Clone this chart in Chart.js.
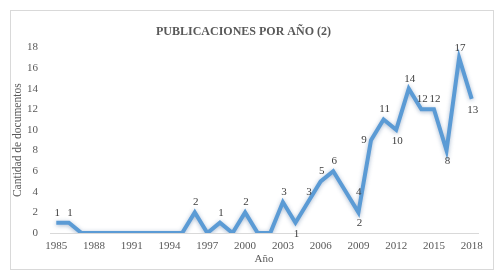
<!DOCTYPE html>
<html>
<head>
<meta charset="utf-8">
<script src="https://cdn.jsdelivr.net/npm/chart.js@4/dist/chart.umd.min.js"></script>
<style>
  html, body { margin: 0; padding: 0; background: #fff; }
  #wrap { position: relative; width: 500px; height: 276px; }
  #frame { position: absolute; left: 10px; top: 10px; width: 482px; height: 258px; border: 1px solid #d9d9d9; pointer-events: none; }
  canvas { position: absolute; left: 0; top: 0; }
</style>
</head>
<body>
<div id="wrap">
  <canvas id="c" width="500" height="276"></canvas>
  <div id="frame"></div>
</div>
<script>
const years = [1985,1986,1987,1988,1989,1990,1991,1992,1993,1994,1995,1996,1997,1998,1999,2000,2001,2002,2003,2004,2005,2006,2007,2008,2009,2010,2011,2012,2013,2014,2015,2016,2017,2018];
const documentos = [1,1,0,0,0,0,0,0,0,0,0,2,0,1,0,2,0,0,3,1,3,5,6,4,2,9,11,10,14,12,12,8,17,13];
const yTicks = [0,2,4,6,8,10,12,14,16,18];
const chartTitle = 'PUBLICACIONES POR AÑO (2)';
const xTitle = 'Año';
const yTitle = 'Cantidad de documentos';

const FONT = "'Liberation Serif', 'DejaVu Serif', serif";

// label placement per point: a=above, b=below, l=left, r=right
const labelPlacement = ['a','a','a','a','a','a','a','a','a','a','a','a','a','a','a','a','a','a','a','b','a','a','a','r','b','l','a','b','a','a','a','b','a','b'];

const shadowPlugin = {
  id: 'lineShadow',
  beforeDatasetDraw(chart) {
    const ctx = chart.ctx;
    ctx.save();
    ctx.shadowColor = 'rgba(60,100,150,0.45)';
    ctx.shadowBlur = 4;
    ctx.shadowOffsetX = 0;
    ctx.shadowOffsetY = 1;
  },
  afterDatasetDraw(chart) {
    chart.ctx.restore();
  }
};

const labelPlugin = {
  id: 'valueLabels',
  afterDatasetsDraw(chart) {
    const ctx = chart.ctx;
    const meta = chart.getDatasetMeta(0);
    const data = chart.data.datasets[0].data;
    ctx.save();
    ctx.font = "11px " + FONT;
    ctx.fillStyle = '#404040';
    ctx.textAlign = 'center';
    ctx.textBaseline = 'middle';
    meta.data.forEach((pt, i) => {
      const v = data[i];
      if (!v) return;
      let x = pt.x + 1, y = pt.y;
      switch (labelPlacement[i]) {
        case 'a': y -= 10; break;
        case 'b': y += 11; break;
        case 'l': x -= 8; break;
        case 'r': x += 12; break;
      }
      ctx.fillText(String(v), x, y);
    });
    ctx.restore();
  }
};

new Chart(document.getElementById('c'), {
  type: 'line',
  data: {
    labels: years,
    datasets: [{
      data: documentos,
      borderColor: '#5b9bd5',
      borderWidth: 4,
      pointRadius: 0,
      tension: 0,
      fill: false,
      borderJoinStyle: 'miter'
    }]
  },
  options: {
    responsive: false,
    animation: false,
    devicePixelRatio: 1,
    layout: { padding: { left: 9, right: 22, top: 0, bottom: 0 } },
    plugins: {
      legend: { display: false },
      tooltip: { enabled: false },
      title: {
        display: true,
        text: chartTitle,
        color: '#595959',
        font: { family: FONT, size: 12, weight: 'bold' },
        padding: { top: 25, bottom: 8 }
      }
    },
    scales: {
      x: {
        type: 'category',
        offset: true,
        grid: { display: false, drawTicks: false },
        border: { display: true, color: '#d9d9d9', width: 1 },
        ticks: {
          autoSkip: false,
          maxRotation: 0,
          padding: 7,
          color: '#595959',
          font: { family: FONT, size: 11 },
          callback: function(val, idx) { return idx % 3 === 0 ? String(years[idx]) : ''; }
        },
        title: {
          display: true,
          text: xTitle,
          color: '#595959',
          font: { family: FONT, size: 11 },
          padding: { top: 0, bottom: 10 }
        },
        afterFit(scale) { scale.height = 43; }
      },
      y: {
        min: 0,
        max: 18,
        afterBuildTicks(scale) { scale.ticks = yTicks.map(v => ({ value: v })); },
        grid: { display: false, drawTicks: false },
        border: { display: false },
        ticks: {
          padding: 12,
          color: '#595959',
          font: { family: FONT, size: 11 }
        },
        title: {
          display: true,
          text: yTitle,
          color: '#595959',
          font: { family: FONT, size: 11.5 },
          padding: { top: 2, bottom: 0 }
        },
        afterFit(scale) { scale.width = 41; }
      }
    }
  },
  plugins: [shadowPlugin, labelPlugin]
});
</script>
</body>
</html>
